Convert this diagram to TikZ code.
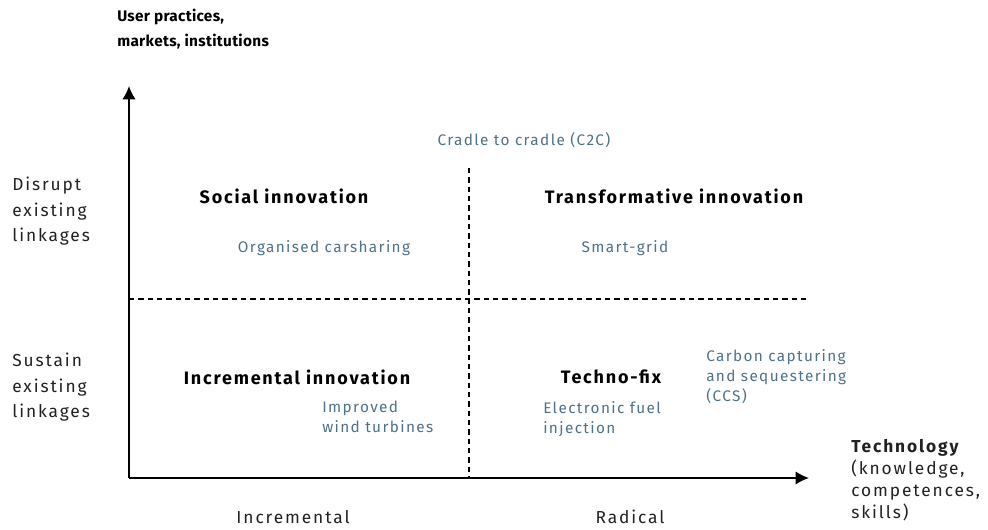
\documentclass[tikz,border=0pt]{standalone}
\usepackage{fontspec}
\setmainfont{Fira Sans}
\usepackage{tikz}
\usetikzlibrary{arrows.meta,positioning,calc}
\definecolor{exblue}{HTML}{4E7189}
\tikzset{
quad/.style = {font=\fontsize{13.5}{16}\selectfont\bfseries\addfontfeatures{LetterSpace=10}, text=black, inner sep=0pt},
example/.style = {font=\fontsize{11.5}{15}\selectfont\addfontfeatures{LetterSpace=9}, text=exblue, align=left, inner sep=0pt},
axislabel/.style = {font=\fontsize{13}{19}\selectfont\addfontfeatures{LetterSpace=11}, text=black!87, align=left, inner sep=0pt},
axis/.style = {->, line width=1.4pt},
divider/.style = {dash pattern=on 4pt off 3pt, line width=1.1pt},
}

\begin{document}
\begin{tikzpicture}[x=0.75pt,y=-0.75pt,>={Latex[length=10pt,width=10pt]}]
        \useasboundingbox (0,0) rectangle (988,530);
        %axes
        \coordinate (origin) at (129,478);
        \coordinate (ytop) at (129,86);
        \coordinate (xend) at (809,478);
        \draw [axis] (origin) -- (ytop);
        \draw [axis] (origin) -- (xend);
        %quadrant borders
        \coordinate (vtop) at (469,168);
        \coordinate (vbot) at (469,478);
        \coordinate (hleft) at (129,299);
        \coordinate (hright) at (810,299);
        \draw [divider] (vtop) -- (vbot);
        \draw [divider] (hleft) -- (hright);
        %axis titles
        \node [axislabel, font=\fontsize{11.5}{18.5}\selectfont\bfseries\addfontfeatures{LetterSpace=2}, text=black, anchor=north west] (ytitle) at (117,9) {User practices,\\markets, institutions};
        \node [axislabel, font=\fontsize{13}{16.5}\selectfont\addfontfeatures{LetterSpace=11}, anchor=north west] (xtitle) at (851,439) {\textbf{Technology}\\(knowledge,\\competences,\\skills)};
        \node [axislabel, anchor=north west] (disrupt) at (12,177) {Disrupt\\existing\\linkages};
        \node [axislabel, anchor=north west] (sustain) at (12,353) {Sustain\\existing\\linkages};
        \node [axislabel] (incr) at (293,517) {Incremental};
        \node [axislabel] (radical) at (630,517) {Radical};
        %quadrants
        \node [quad] (social) at (284,196) {Social innovation};
        \node [quad] (transf) at (674,196) {Transformative innovation};
        \node [quad] (incrinno) at (297,377) {Incremental innovation};
        \node [quad] (technofix) at (611,377) {Techno-fix};
        %examples
        \node [example] (c2c) at (524,140) {Cradle to cradle (C2C)};
        \node [example] (carsharing) at (324,248) {Organised carsharing};
        \node [example] (smartgrid) at (625,248) {Smart-grid};
        \node [example, anchor=north west] (ccs) at (706,349) {Carbon capturing\\and sequestering\\(CCS)};
        \node [example, anchor=north west] (wind) at (322,401) {Improved\\wind turbines};
        \node [example, anchor=north west] (fuel) at (543,401) {Electronic fuel\\injection};
\end{tikzpicture}
\end{document}
